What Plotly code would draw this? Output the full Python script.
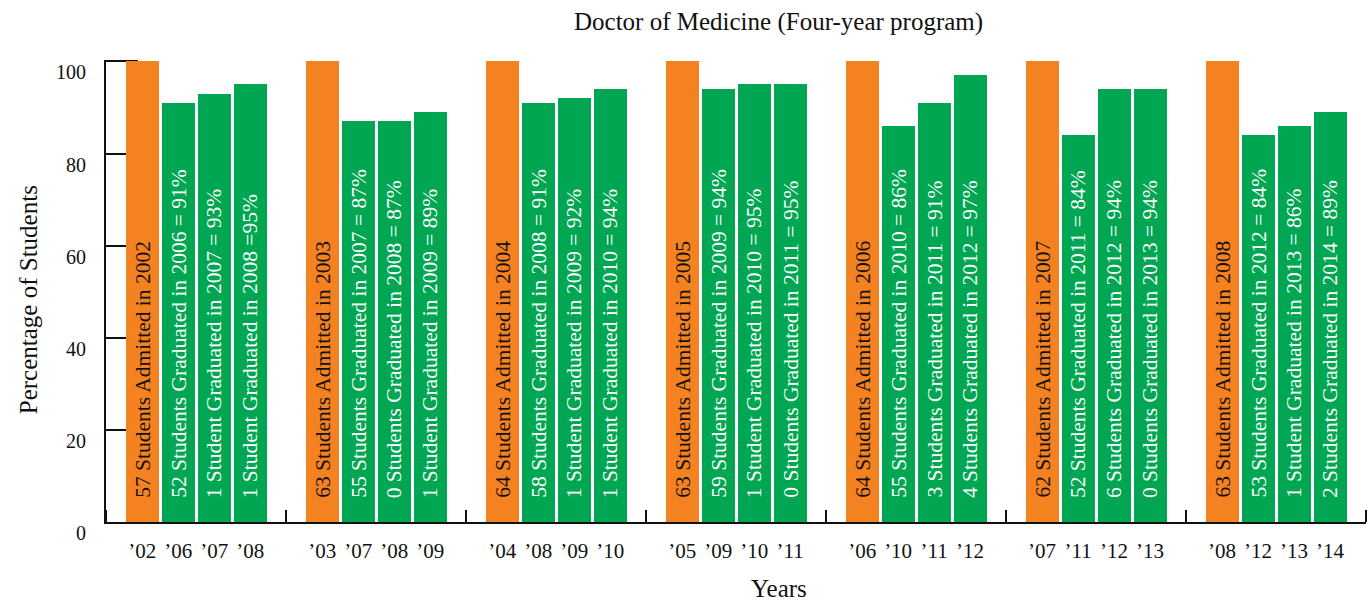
import plotly.graph_objects as go

# ---- data ----
cohorts = ["2002", "2003", "2004", "2005", "2006", "2007", "2008"]
tick_labels = [
    ["’02", "’06", "’07", "’08"],
    ["’03", "’07", "’08", "’09"],
    ["’04", "’08", "’09", "’10"],
    ["’05", "’09", "’10", "’11"],
    ["’06", "’10", "’11", "’12"],
    ["’07", "’11", "’12", "’13"],
    ["’08", "’12", "’13", "’14"],
]
admitted_pct = [100, 100, 100, 100, 100, 100, 100]
graduated_pct = [
    [91, 93, 95],
    [87, 87, 89],
    [91, 92, 94],
    [94, 95, 95],
    [86, 91, 97],
    [84, 94, 94],
    [84, 86, 89],
]
bar_texts = [
    ["57 Students Admitted in 2002", "52 Students Graduated in 2006 = 91%",
     "1 Student Graduated in 2007 = 93%", "1 Student Graduated in 2008 =95%"],
    ["63 Students Admitted in 2003", "55 Students Graduated in 2007 = 87%",
     "0 Students Graduated in 2008 = 87%", "1 Student Graduated in 2009 = 89%"],
    ["64 Students Admitted in 2004", "58 Students Graduated in 2008 = 91%",
     "1 Student Graduated in 2009 = 92%", "1 Student Graduated in 2010 = 94%"],
    ["63 Students Admitted in 2005", "59 Students Graduated in 2009 = 94%",
     "1 Student Graduated in 2010 = 95%", "0 Students Graduated in 2011 = 95%"],
    ["64 Students Admitted in 2006", "55 Students Graduated in 2010 = 86%",
     "3 Students Graduated in 2011 = 91%", "4 Students Graduated in 2012 = 97%"],
    ["62 Students Admitted in 2007", "52 Students Graduated in 2011 = 84%",
     "6 Students Graduated in 2012 = 94%", "0 Students Graduated in 2013 = 94%"],
    ["63 Students Admitted in 2008", "53 Students Graduated in 2012 = 84%",
     "1 Student Graduated in 2013 = 86%", "2 Students Graduated in 2014 = 89%"],
]
y_ticks = [0, 20, 40, 60, 80, 100]

ORANGE = "#F58220"
GREEN = "#00A651"
FONT = "Liberation Serif"

# build flat lists: each group has 4 bars then an empty slot
xs, ys, cols, txts, tlabels, tcols = [], [], [], [], [], []
for g in range(len(cohorts)):
    vals = [admitted_pct[g]] + graduated_pct[g]
    for j, v in enumerate(vals):
        xs.append(g * 5 + j)
        ys.append(v)
        cols.append(ORANGE if j == 0 else GREEN)
        tcols.append("#111111" if j == 0 else "#ffffff")
        txts.append(bar_texts[g][j])
        tlabels.append(tick_labels[g][j])

fig = go.Figure()
fig.add_trace(go.Bar(
    x=xs, y=ys, width=0.917, marker=dict(color=cols, line=dict(width=0)),
    hoverinfo="skip", showlegend=False,
))

annotations = []
for x, t, c in zip(xs, txts, tcols):
    annotations.append(dict(
        x=x, y=0, xref="x", yref="y", text=t, showarrow=False,
        textangle=-90, xanchor="center", yanchor="bottom", yshift=22,
        font=dict(family=FONT, size=21.5, color=c),
    ))

annotations.append(dict(
    x=0.534, y=1.0, xref="paper", yref="paper", yshift=38,
    text="Doctor of Medicine (Four-year program)", showarrow=False,
    xanchor="center", yanchor="middle",
    font=dict(family=FONT, size=25, color="#111111"),
))
annotations.append(dict(
    x=0.534, y=0, xref="paper", yref="paper", yshift=-66,
    text="Years", showarrow=False, xanchor="center", yanchor="middle",
    font=dict(family=FONT, size=25, color="#111111"),
))
annotations.append(dict(
    x=0, y=0.48, xref="paper", yref="paper", xshift=-78,
    text="Percentage of Students", showarrow=False, textangle=-90,
    xanchor="center", yanchor="middle",
    font=dict(family=FONT, size=25, color="#111111"),
))

fig.update_layout(
    width=1372, height=602,
    margin=dict(l=106, r=6, t=60, b=80),
    plot_bgcolor="white", paper_bgcolor="white",
    bargap=0,
    annotations=annotations,
    font=dict(family=FONT, size=20, color="#111111"),
    xaxis=dict(
        range=[-1.01, 34.0], tickmode="array", tickvals=xs, ticktext=tlabels,
        ticks="", showgrid=False, zeroline=False,
        showline=True, linecolor="#111111", linewidth=2,
        tickfont=dict(family=FONT, size=21, color="#111111"),
        ticklabelstandoff=9,
        minor=dict(ticks="inside", tick0=-1, dtick=5, ticklen=12,
                   tickwidth=2, tickcolor="#111111", showgrid=False),
    ),
    yaxis=dict(
        range=[0, 100.3], tickmode="array", tickvals=y_ticks,
        ticks="inside", ticklen=32, tickwidth=2, tickcolor="#111111",
        showgrid=False, zeroline=False,
        showline=True, linecolor="#111111", linewidth=2,
        layer="below traces",
        tickfont=dict(family=FONT, size=20, color="#111111"),
        ticklabelstandoff=14, ticklabelshift=11,
    ),
)

fig.write_html(
    "out.html",
    config={"displayModeBar": False},
    post_script="document.body.style.margin='0';document.body.style.overflow='hidden';",
)
